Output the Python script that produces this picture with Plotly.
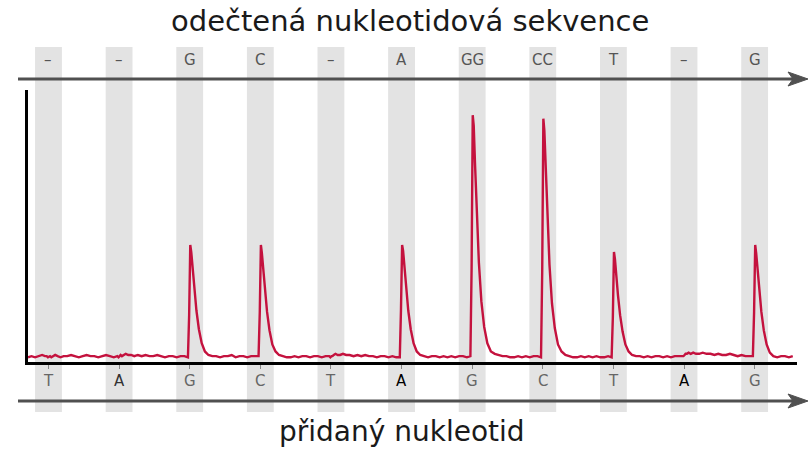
import plotly.graph_objects as go

# ---------------- data ----------------
dispensed = ['T', 'A', 'G', 'C', 'T', 'A', 'G', 'C', 'T', 'A', 'G']
read_seq = ['–', '–', 'G', 'C', '–', 'A', 'GG', 'CC', 'T', '–', 'G']
disp_index = list(range(len(dispensed)))

# sampling times inside one dispensation cycle (in dispensation units, relative to the dispensation)
cycle_offsets = [-0.025, -0.008, 0.008, 0.022, 0.04, 0.065, 0.095, 0.13, 0.17, 0.215, 0.265,
                 0.32, 0.375, 0.43, 0.485, 0.54, 0.595, 0.65, 0.705, 0.76, 0.815, 0.87, 0.925]

# light signal before the first dispensation
lead_time = [-0.29, -0.24, -0.19, -0.14, -0.09, -0.05]
lead_signal = [0.04, 0.05, 0.04, 0.05, 0.06, 0.05]

# light signal read per dispensation cycle
signal_T1 = [0.05, 0.04, 0.05, 0.05, 0.04, 0.05, 0.06, 0.05, 0.04, 0.05, 0.05, 0.06, 0.05, 0.04, 0.05, 0.06, 0.05, 0.05, 0.04, 0.05, 0.06, 0.05, 0.04]
signal_A1 = [0.05, 0.04, 0.05, 0.06, 0.05, 0.06, 0.07, 0.06, 0.06, 0.05, 0.06, 0.05, 0.06, 0.05, 0.05, 0.06, 0.05, 0.04, 0.05, 0.05, 0.04, 0.05, 0.05]
signal_G1 = [0.04, 0.40, 1.00, 0.94, 0.80, 0.62, 0.44, 0.28, 0.16, 0.09, 0.06, 0.05, 0.05, 0.04, 0.05, 0.05, 0.06, 0.04, 0.05, 0.05, 0.04, 0.05, 0.05]
signal_C1 = [0.05, 0.42, 1.00, 0.93, 0.79, 0.61, 0.43, 0.27, 0.15, 0.09, 0.06, 0.05, 0.04, 0.04, 0.05, 0.04, 0.05, 0.05, 0.04, 0.05, 0.05, 0.04, 0.05]
signal_T2 = [0.05, 0.04, 0.05, 0.05, 0.06, 0.07, 0.06, 0.06, 0.07, 0.06, 0.06, 0.05, 0.06, 0.05, 0.06, 0.05, 0.05, 0.04, 0.05, 0.05, 0.04, 0.05, 0.04]
signal_A2 = [0.04, 0.45, 1.00, 0.95, 0.81, 0.62, 0.44, 0.28, 0.16, 0.09, 0.06, 0.05, 0.04, 0.05, 0.05, 0.04, 0.05, 0.04, 0.05, 0.04, 0.05, 0.05, 0.04]
signal_G2 = [0.05, 0.80, 2.11, 2.02, 1.70, 1.25, 0.85, 0.52, 0.30, 0.16, 0.09, 0.07, 0.06, 0.05, 0.05, 0.04, 0.04, 0.05, 0.04, 0.05, 0.04, 0.05, 0.05]
signal_C2 = [0.04, 0.78, 2.08, 1.98, 1.66, 1.22, 0.83, 0.50, 0.29, 0.15, 0.09, 0.06, 0.05, 0.04, 0.04, 0.05, 0.04, 0.05, 0.04, 0.05, 0.04, 0.04, 0.05]
signal_T3 = [0.04, 0.38, 0.94, 0.88, 0.74, 0.57, 0.40, 0.26, 0.15, 0.09, 0.06, 0.05, 0.05, 0.04, 0.05, 0.04, 0.05, 0.05, 0.04, 0.05, 0.04, 0.05, 0.05]
signal_A3 = [0.05, 0.05, 0.06, 0.07, 0.07, 0.08, 0.07, 0.08, 0.07, 0.07, 0.08, 0.07, 0.07, 0.06, 0.07, 0.06, 0.06, 0.07, 0.06, 0.05, 0.06, 0.05, 0.05]
signal_G3 = [0.05, 0.42, 1.00, 0.93, 0.80, 0.61, 0.43, 0.27, 0.15, 0.08, 0.05, 0.04, 0.05, 0.05, 0.04, 0.05]

cycle_signals = [signal_T1, signal_A1, signal_G1, signal_C1, signal_T2, signal_A2,
                 signal_G2, signal_C2, signal_T3, signal_A3, signal_G3]

title_top = 'odečtená nukleotidová sekvence'
title_bottom = 'přidaný nukleotid'

# ---------------- build trace ----------------
trace_x = list(lead_time)
trace_y = list(lead_signal)
for i, sig in zip(disp_index, cycle_signals):
    for off, v in zip(cycle_offsets, sig):
        trace_x.append(i + off)
        trace_y.append(v)

W, H = 809, 449
L, R, T, B = 28, 12, 90, 87
PW, PH = W - L - R, H - T - B


def xp(px):
    return (px - L) / PW


def yp(py):
    return (H - B - py) / PH


fig = go.Figure()
fig.add_trace(go.Scatter(x=trace_x, y=trace_y, mode='lines',
                         line=dict(color='#c4123e', width=2.4), hoverinfo='skip',
                         showlegend=False))

shapes = []
# grey bands for each dispensation
for i in disp_index:
    shapes.append(dict(type='rect', xref='x', yref='paper', x0=i - 0.19, x1=i + 0.19,
                       y0=yp(412), y1=yp(47), fillcolor='#e3e3e3', line=dict(width=0),
                       layer='below'))

# arrows (top and bottom)
for ay in (79, 401):
    shapes.append(dict(type='line', xref='paper', yref='paper', x0=xp(18), x1=xp(796),
                       y0=yp(ay), y1=yp(ay), line=dict(color='#505050', width=3)))
    path = 'M {},{} L {},{} L {},{} L {},{} Z'.format(
        xp(808), yp(ay), xp(788), yp(ay - 7), xp(793), yp(ay), xp(788), yp(ay + 7))
    shapes.append(dict(type='path', xref='paper', yref='paper', path=path,
                       fillcolor='#505050', line=dict(color='#505050', width=1)))

annotations = []
for i, lab in zip(disp_index, read_seq):
    annotations.append(dict(x=i, y=yp(60), xref='x', yref='paper', text=lab, showarrow=False,
                            font=dict(family='DejaVu Sans', size=15, color='#555555'),
                            xanchor='center', yanchor='middle'))
bottom_colors = ['#666666', '#333333', '#666666', '#666666', '#666666', '#000000',
                 '#666666', '#666666', '#666666', '#000000', '#666666']
for i, lab, col in zip(disp_index, dispensed, bottom_colors):
    annotations.append(dict(x=i, y=yp(381), xref='x', yref='paper', text=lab, showarrow=False,
                            font=dict(family='DejaVu Sans', size=15, color=col),
                            xanchor='center', yanchor='middle'))

annotations.append(dict(x=xp(410), y=yp(21), xref='paper', yref='paper', text=title_top,
                        showarrow=False, font=dict(family='DejaVu Sans', size=29, color='#1a1a1a'),
                        xanchor='center', yanchor='middle'))
annotations.append(dict(x=xp(402), y=yp(431), xref='paper', yref='paper', text=title_bottom,
                        showarrow=False, font=dict(family='DejaVu Sans', size=28, color='#1a1a1a'),
                        xanchor='center', yanchor='middle'))

fig.update_layout(
    width=W, height=H,
    margin=dict(l=L, r=R, t=T, b=B, pad=0),
    paper_bgcolor='white', plot_bgcolor='rgba(0,0,0,0)',
    shapes=shapes, annotations=annotations,
    xaxis=dict(range=[-0.29, 10.6], showgrid=False, zeroline=False,
               showline=True, linecolor='#000000', linewidth=3,
               tickvals=disp_index, ticks='outside', ticklen=4, tickwidth=1,
               tickcolor='#888888', showticklabels=False, fixedrange=True),
    yaxis=dict(range=[0, 2.325], showgrid=False, zeroline=False,
               showline=True, linecolor='#000000', linewidth=3,
               showticklabels=False, ticks='', fixedrange=True),
    showlegend=False,
)

fig.write_html('out.html', config={'displayModeBar': False},
               post_script="document.body.style.margin='0';document.body.style.overflow='hidden';")
